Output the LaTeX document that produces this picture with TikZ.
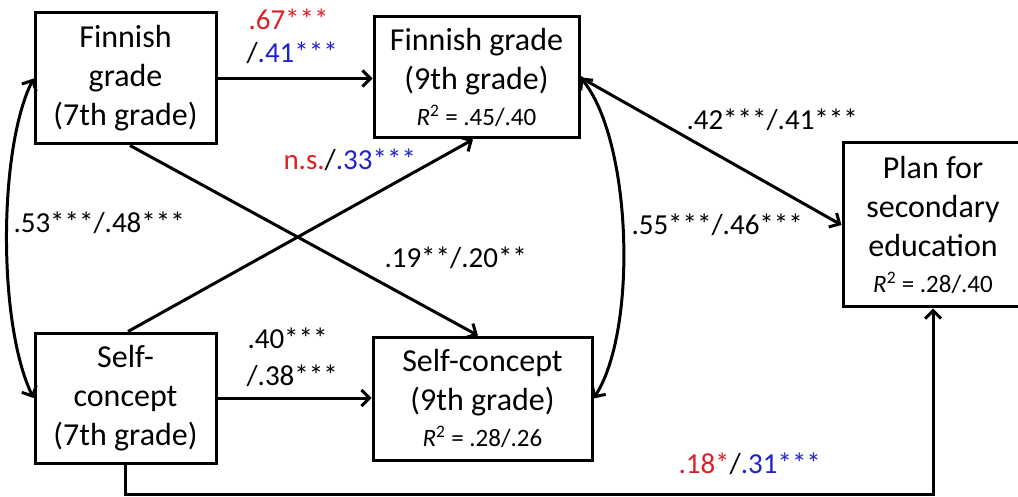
\documentclass[tikz,border=0pt]{standalone}
\usepackage{fontspec}
\setmainfont{Carlito}
\usetikzlibrary{arrows.meta}
\definecolor{sigred}{RGB}{222,32,36}
\definecolor{sigblue}{RGB}{32,32,205}
\newcommand\mybf{\fontsize{32}{39}\selectfont}
\newcommand\mylf{\fontsize{29}{34}\selectfont}
\newcommand\myrf{\fontsize{25}{30}\selectfont}
\newcommand\rsq[1]{{\myrf\textit{R}\textsuperscript{2} = #1}}
\begin{document}
\begin{tikzpicture}[x=1pt,y=-1pt,line width=3pt,
  box/.style={draw,line width=3pt,inner sep=0pt,align=center,font=\mybf},
  arr/.style={-{Straight Barb[length=8pt,width=16pt]}},
  arrs/.style={{Straight Barb[length=8pt,width=16pt]}-{Straight Barb[length=8pt,width=16pt]}},
  lab/.style={anchor=base west,inner sep=0pt,font=\mylf}]
\useasboundingbox (0,0) rectangle (1018,497);

\node[box,minimum width=181pt,minimum height=131pt] (A) at (125.5,78.5) {Finnish\\grade\\(7th grade)};
\node[box,minimum width=205pt,minimum height=121pt] (B) at (476.5,77.5) {Finnish grade\\(9th grade)\\[-3pt]\rsq{.45/.40}};
\node[box,minimum width=181pt,minimum height=130pt] (D) at (125.5,398) {Self-\\concept\\(7th grade)};
\node[box,minimum width=219pt,minimum height=123pt] (E) at (482.5,398.5) {Self-concept\\(9th grade)\\[-3pt]\rsq{.28/.26}};
\node[box,minimum width=180pt,minimum height=164pt] (C) at (933,225) {Plan for\\secondary\\education\\[-3pt]\rsq{.28/.40}};

% paths
\draw[arr] (A.east) -- (A.east -| B.west);
\draw[arr] (D.east) -- (D.east -| E.west);
\draw[arr] ([xshift=4.5pt]A.south) -- ([xshift=-4.5pt]E.north);
\draw[arr] ([xshift=2.5pt]D.north) -- ([xshift=-3.5pt]B.south);
\draw[arr] (B.east) -- (C.west);
\draw[arrs] (A.west) .. controls (-2,150) and (-2,325) .. (D.west);
\draw[arrs] (B.east) .. controls (632,140) and (638,330) .. (E.east);
\draw[arr] (D.south) -- ++(0,30) -| (C.south);

% labels
\node[lab] (l1) at (247,30) {\textcolor{sigred}{.67***}};
\node[lab] (l2) at (245,63) {/\textcolor{sigblue}{.41***}};
\node[lab] (l3) at (282,170) {\textcolor{sigred}{n.s.}/\textcolor{sigblue}{.33***}};
\node[lab] (l4) at (383,268) {.19**/.20**};
\node[lab] (l5) at (12,233) {.53***/.48***};
\node[lab] (l6) at (246,348) {.40***};
\node[lab] (l7) at (245,385) {/.38***};
\node[lab] (l8) at (685,130) {.42***/.41***};
\node[lab] (l9) at (630,235) {.55***/.46***};
\node[lab] (l10) at (677,473) {\textcolor{sigred}{.18*}/\textcolor{sigblue}{.31***}};
\end{tikzpicture}
\end{document}
